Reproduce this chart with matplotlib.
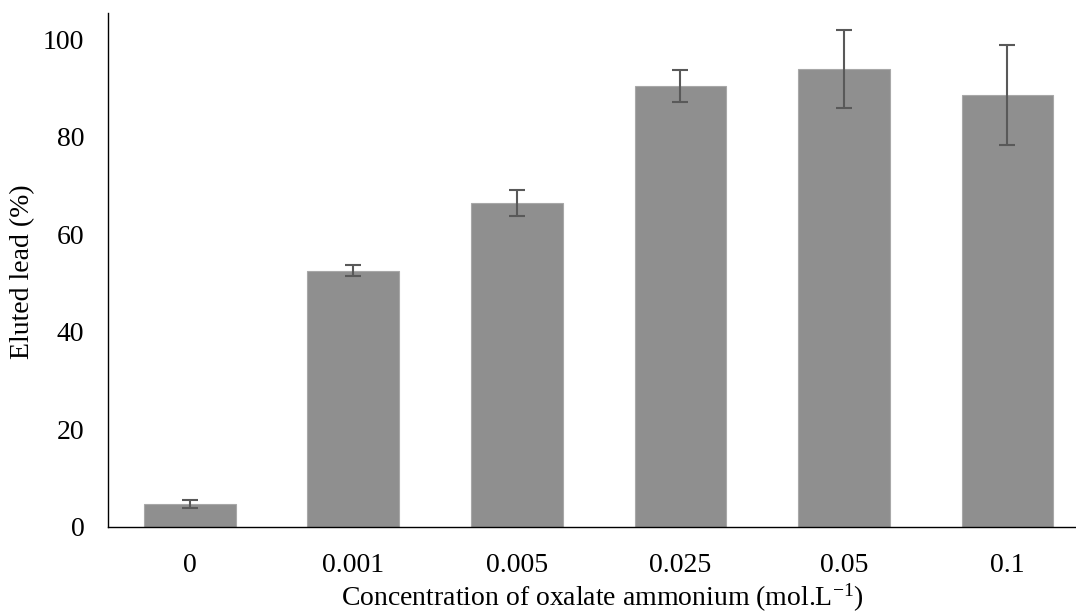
import matplotlib
matplotlib.use("Agg")
import matplotlib.pyplot as plt

categories = ["0", "0.001", "0.005", "0.025", "0.05", "0.1"]
values = [4.7, 52.5, 66.4, 90.5, 93.9, 88.6]
errors = [0.85, 1.15, 2.6, 3.3, 8.05, 10.25]

plt.rcParams['font.family'] = ['Liberation Serif', 'DejaVu Serif']
plt.rcParams['mathtext.fontset'] = 'custom'
plt.rcParams['mathtext.rm'] = 'Liberation Serif'
plt.rcParams['mathtext.it'] = 'Liberation Serif:italic'
W, H = 1076, 614
fig = plt.figure(figsize=(10.76, 6.14), dpi=100)
ax = fig.add_axes([108/W, 1-526.6/H, (1076-108)/W, (526.6-13)/H])
x = list(range(len(categories)))
ax.bar(x, values, width=0.56, color='#8f8f8f', edgecolor='#a8a8a8', linewidth=0.8, zorder=2)
ax.errorbar(x, values, yerr=errors, fmt='none', ecolor='#595959', elinewidth=1.5, capsize=6, capthick=1.5, zorder=3)
ax.set_xlim(-0.5, 5.42)
ax.set_ylim(0, 105.4)
ax.set_yticks([0, 20, 40, 60, 80, 100])
ax.set_xticks(x)
ax.set_xticklabels(categories)
ax.tick_params(axis='both', labelsize=20, length=0)
ax.tick_params(axis='y', pad=17)
ax.tick_params(axis='x', pad=19)
for s in ['top', 'right']:
    ax.spines[s].set_visible(False)
for s in ['left', 'bottom']:
    ax.spines[s].set_color('black')
    ax.spines[s].set_linewidth(1)
fig.text(23/W, 1-272/H, 'Eluted lead (%)', fontsize=20, rotation=90, ha='center', va='center')
fig.text(602/W, 1-598/H, r'Concentration of oxalate ammonium (mol.L$^{\mathrm{-1}}$)', fontsize=20, ha='center', va='center')
fig.savefig('out.png', dpi=100)
